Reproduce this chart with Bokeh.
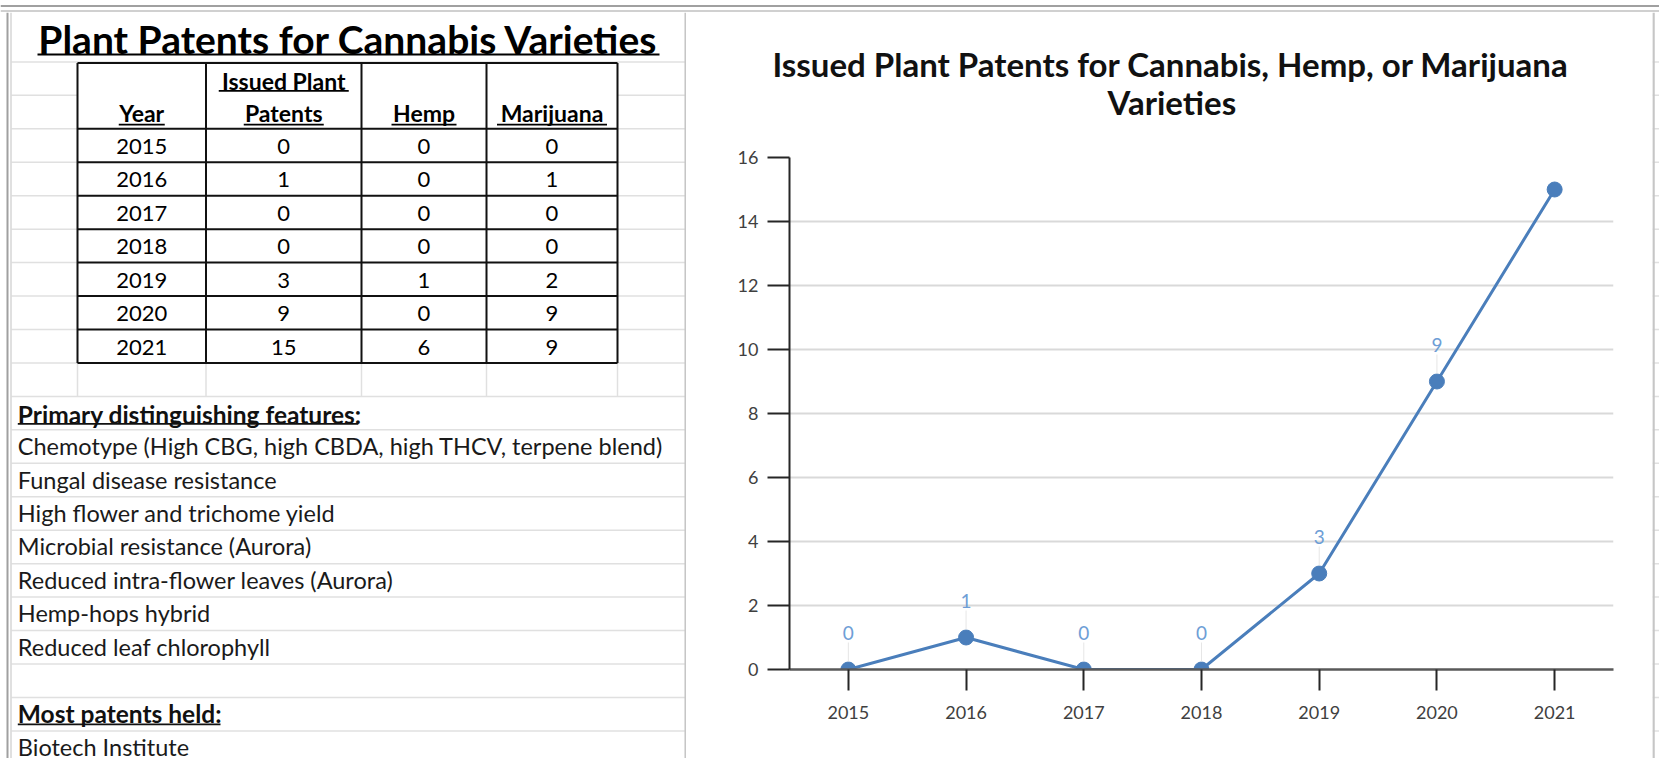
from bokeh.plotting import figure
from bokeh.models import ColumnDataSource, FactorRange, Range1d, FixedTicker, LabelSet, Title
from bokeh.layouts import row, column
from bokeh.core.properties import value
from bokeh.embed import file_html
from bokeh.resources import INLINE

# ---------------- data ----------------
years = ["2015", "2016", "2017", "2018", "2019", "2020", "2021"]
issued = [0, 1, 0, 0, 3, 9, 15]
hemp = [0, 0, 0, 0, 1, 0, 6]
marijuana = [0, 1, 0, 0, 2, 9, 9]
header_top = ["", "Issued Plant", "", ""]
header_bottom = ["Year", "Patents", "Hemp", "Marijuana"]
sheet_title = "Plant Patents for Cannabis Varieties"
features_heading = "Primary distinguishing features:"
features = [
    "Chemotype (High CBG, high CBDA, high THCV, terpene blend)",
    "Fungal disease resistance",
    "High flower and trichome yield",
    "Microbial resistance (Aurora)",
    "Reduced intra-flower leaves (Aurora)",
    "Hemp-hops hybrid",
    "Reduced leaf chlorophyll",
]
holders_heading = "Most patents held:"
holders = ["Biotech Institute"]
chart_title = ["Issued Plant Patents for Cannabis, Hemp, or Marijuana", "Varieties"]
y_ticks = [0, 2, 4, 6, 8, 10, 12, 14, 16]

# ---------------- layout constants ----------------
FONT = "Lato"
W, H = 1659, 758
TOP = 12
SPLIT = 686
BOX_R = 1652
ROW0 = 128.3
ROW_H = 33.45
GRID_C = "#e0e0e0"
BORDER_C = "#c6c6c6"
col_edges = [77, 205.5, 361, 486, 617]
col_centers = [(col_edges[i] + col_edges[i + 1]) / 2 for i in range(4)]
TBL_DY = 17.7       # table text middle below a row's top line
NOTE_DY = 16.2      # note text middle below a row's top line
UL_DY = 29.2        # underline below a row's top line


def row_top(k):
    return ROW0 + ROW_H * k


def plain_fig(width, height, x0, x1, y0, y1):
    f = figure(width=width, height=height, x_range=Range1d(x0, x1), y_range=Range1d(y0, y1),
               min_border=0, toolbar_location=None, output_backend="svg",
               x_axis_location=None, y_axis_location=None, title=None, frame_align=False)
    f.outline_line_color = None
    f.xgrid.visible = False
    f.ygrid.visible = False
    f.background_fill_color = "white"
    f.border_fill_color = "white"
    return f


# ---------------- top strip ----------------
top = plain_fig(W, TOP, 0, W, TOP, 0)
top.segment(x0=[0, 0], y0=[5.5, 10.5], x1=[W, W], y1=[5.5, 10.5],
            line_color=["#a0a0a0", "#d0d0d0"], line_width=[2, 2])

# ---------------- left spreadsheet ----------------
left = plain_fig(SPLIT, H - TOP, 0, SPLIT, H, TOP)
gy = [row_top(k) for k in range(-2, 19)]
left.segment(x0=[11] * len(gy), y0=gy, x1=[SPLIT] * len(gy), y1=gy, line_color=GRID_C, line_width=1.5)
left.segment(x0=col_edges, y0=[row_top(7)] * 5, x1=col_edges, y1=[row_top(8)] * 5,
             line_color=GRID_C, line_width=1.5)
left.segment(x0=[7, 10.5], y0=[TOP, TOP], x1=[7, 10.5], y1=[H, H],
             line_color=["#a0a0a0", "#d6d6d6"], line_width=[2, 1.5])
left.segment(x0=[SPLIT - 0.8], y0=[TOP], x1=[SPLIT - 0.8], y1=[H], line_color=BORDER_C, line_width=2.5)

# sheet title
left.text(x=[348], y=[38.3], text=[sheet_title], text_font=value(FONT), text_font_style="bold",
          text_font_size="39px", text_align="center", text_baseline="middle", text_color="black")
left.segment(x0=[37], y0=[54], x1=[659], y1=[54], line_color="black", line_width=2)

# table
t_top, t_bot = 62.5, row_top(7)
left.quad(left=[col_edges[0]], right=[col_edges[-1]], top=[t_top], bottom=[t_bot], fill_color="white", line_color=None)
hy = [t_top] + [row_top(k) for k in range(0, 8)]
left.segment(x0=[col_edges[0]] * len(hy), y0=hy, x1=[col_edges[-1]] * len(hy), y1=hy, line_color="#111111", line_width=2)
left.segment(x0=col_edges, y0=[t_top] * 5, x1=col_edges, y1=[t_bot] * 5, line_color="#111111", line_width=2)

hdr_font = "23px"
left.text(x=col_centers, y=[row_top(-2) + 18.8] * 4, text=header_top, text_font=value(FONT), text_font_style="bold",
          text_font_size=hdr_font, text_align="center", text_baseline="middle", text_color="black")
left.text(x=col_centers, y=[row_top(-1) + TBL_DY] * 4, text=header_bottom, text_font=value(FONT), text_font_style="bold",
          text_font_size=hdr_font, text_align="center", text_baseline="middle", text_color="black")
ul_top_w = [0, 130, 0, 0]
ul_bot_w = [46, 80, 65, 110]
ux0, ux1, uy = [], [], []
for c, w in zip(col_centers, ul_top_w):
    if w:
        ux0.append(c - w / 2); ux1.append(c + w / 2); uy.append(row_top(-2) + 29)
for c, w in zip(col_centers, ul_bot_w):
    ux0.append(c - w / 2); ux1.append(c + w / 2); uy.append(row_top(-1) + UL_DY)
left.segment(x0=ux0, y0=uy, x1=ux1, y1=uy, line_color="black", line_width=1.8)

tbl = ColumnDataSource(dict(
    y=[row_top(i) + TBL_DY for i in range(len(years))],
    year=years, issued=[str(v) for v in issued], hemp=[str(v) for v in hemp],
    marijuana=[str(v) for v in marijuana]))
for cx, field in zip(col_centers, ["year", "issued", "hemp", "marijuana"]):
    left.text(x=cx, y="y", text=field, source=tbl, text_font=value(FONT), text_font_size="22px",
              text_align="center", text_baseline="middle", text_color="black")

# notes below the table
TX = 17.3
HEAD_FS = "24.5px"
BODY_FS = "23.5px"
left.text(x=[TX], y=[row_top(8) + 18.0], text=[features_heading], text_font=value(FONT), text_font_style="bold",
          text_font_size=HEAD_FS, text_align="left", text_baseline="middle", text_color="#111111")
left.segment(x0=[TX], y0=[row_top(8) + 27.5], x1=[357.8], y1=[row_top(8) + 27.5], line_color="#111111", line_width=1.8)
left.text(x=[TX] * len(features), y=[row_top(9 + i) + NOTE_DY for i in range(len(features))], text=features,
          text_font=value(FONT), text_font_size=BODY_FS, text_align="left", text_baseline="middle",
          text_color="#1a1a1a")
left.text(x=[TX], y=[row_top(17) + 16.5], text=[holders_heading], text_font=value(FONT), text_font_style="bold",
          text_font_size=HEAD_FS, text_align="left", text_baseline="middle", text_color="#111111")
left.segment(x0=[TX], y0=[row_top(17) + 27], x1=[220], y1=[row_top(17) + 27], line_color="#111111", line_width=1.8)
left.text(x=[TX] * len(holders), y=[row_top(18 + i) + NOTE_DY for i in range(len(holders))], text=holders,
          text_font=value(FONT), text_font_size=BODY_FS, text_align="left", text_baseline="middle",
          text_color="#1a1a1a")

# ---------------- right strip ----------------
right = plain_fig(W - BOX_R, H - TOP, BOX_R, W, H, TOP)
ry = [row_top(k) for k in range(-2, 19)]
right.segment(x0=[BOX_R] * len(ry), y0=ry, x1=[W] * len(ry), y1=ry, line_color=GRID_C, line_width=1.5)
right.segment(x0=[BOX_R + 1], y0=[TOP], x1=[BOX_R + 1], y1=[H], line_color=BORDER_C, line_width=2.5)

# ---------------- chart ----------------
FR_L, FR_R, FR_T, FR_B = 103, 39, 145, 89
chart = figure(width=BOX_R - SPLIT, height=H - TOP, x_range=FactorRange(*years), y_range=Range1d(0, 16),
               min_border_left=FR_L, min_border_right=FR_R, min_border_top=FR_T, min_border_bottom=FR_B,
               toolbar_location=None, output_backend="svg", title=None, frame_align=False)
chart.outline_line_color = None
chart.background_fill_color = "white"
chart.border_fill_color = "white"

frame_h = (H - TOP) - FR_T - FR_B
px_per_unit = frame_h / (y_ticks[-1] - y_ticks[0])

src = ColumnDataSource(dict(year=years, issued=issued))
chart.line(x="year", y="issued", source=src, line_color="#4a7ebb", line_width=3)
chart.scatter(x="year", y="issued", source=src, size=15, fill_color="#4a7ebb", line_color="#4a7ebb")

lab_idx = [i for i, v in enumerate(issued) if v + 1.3 < y_ticks[-1]]
lab = ColumnDataSource(dict(
    year=[years[i] for i in lab_idx],
    issued=[issued[i] for i in lab_idx],
    txt=[str(issued[i]) for i in lab_idx],
    l0=[issued[i] + 8 / px_per_unit for i in lab_idx],
    l1=[issued[i] + 27 / px_per_unit for i in lab_idx],
))
chart.segment(x0="year", y0="l0", x1="year", y1="l1", source=lab, line_color="#e6e6e6", line_width=1)
chart.add_layout(LabelSet(x="year", y="issued", text="txt", source=lab, y_offset=37,
                          text_align="center", text_baseline="middle", text_font=value(FONT),
                          text_font_size="19px", text_color="#6e9ed6"))

for ax in chart.yaxis:
    ax.ticker = FixedTicker(ticks=y_ticks)
    ax.major_tick_out = 22
    ax.major_tick_in = 0
    ax.minor_tick_out = 0
    ax.minor_tick_in = 0
    ax.axis_line_color = "#262626"
    ax.axis_line_width = 2
    ax.major_tick_line_color = "#262626"
    ax.major_tick_line_width = 2
    ax.major_label_text_font = FONT
    ax.major_label_text_font_size = "18px"
    ax.major_label_text_color = "#404040"
    ax.major_label_standoff = 9
for ax in chart.xaxis:
    ax.major_tick_out = 21
    ax.major_tick_in = 0
    ax.axis_line_color = "#595959"
    ax.axis_line_width = 2.5
    ax.major_tick_line_color = "#262626"
    ax.major_tick_line_width = 2
    ax.major_label_text_font = FONT
    ax.major_label_text_font_size = "18px"
    ax.major_label_text_color = "#404040"
    ax.major_label_standoff = 15
chart.xgrid.visible = False
chart.ygrid.ticker = FixedTicker(ticks=y_ticks)
chart.ygrid.grid_line_color = "#d9d9d9"
chart.ygrid.grid_line_width = 2

t2 = Title(text=chart_title[1], align="left", offset=318, text_font=FONT, text_font_size="33px",
           text_font_style="bold", text_color="#111111", standoff=71)
t1 = Title(text=chart_title[0], align="left", offset=-17, text_font=FONT, text_font_size="33px",
           text_font_style="bold", text_color="#111111", standoff=-79)
chart.add_layout(t2, "above")
chart.add_layout(t1, "above")

layout = column(top, row(left, chart, right))
open("out.html", "w").write(file_html(layout, INLINE))
